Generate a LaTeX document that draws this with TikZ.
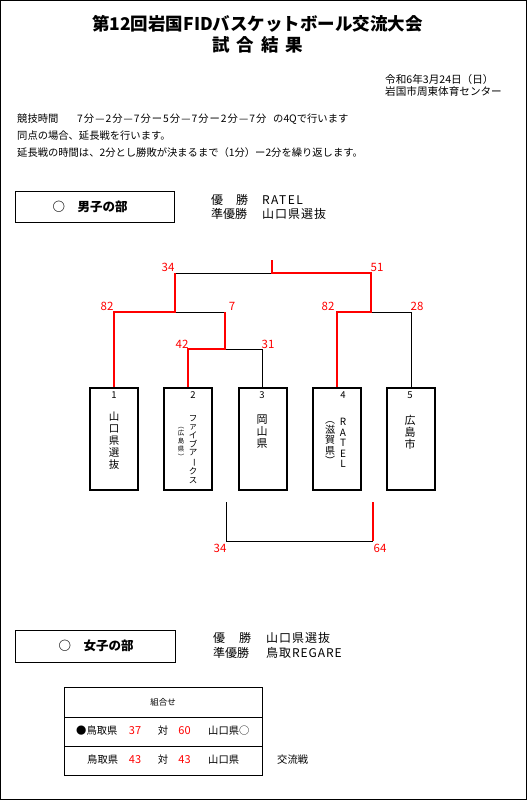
\documentclass[tikz,border=0pt]{standalone}
\usepackage{fontspec}
\setmainfont{Noto Sans CJK JP}
\usepackage{xcolor}
\usetikzlibrary{positioning}
\definecolor{scorered}{RGB}{255,0,0}
\newcommand{\tatebar}{\rotatebox[origin=c]{-90}{ー}}

\begin{document}
\begin{tikzpicture}[x=1pt,y=-1pt,
  team/.style={draw,line width=2pt,minimum width=48pt,minimum height=102pt,inner sep=0pt},
  win/.style={scorered,line width=1.6pt},
  lose/.style={black,line width=0.8pt},
  score/.style={text=scorered,inner sep=0pt,font=\fontsize{11.5}{12}\selectfont},
  txt/.style={inner sep=0pt,anchor=west,font=\fontsize{10.3}{12}\selectfont},
  big/.style={txt,font=\fontsize{12}{14}\selectfont},
  vtxt/.style={inner sep=0pt,align=center}]
  \useasboundingbox (0,0) rectangle (528,801);
  \draw[line width=1pt] (0.8,0.8) rectangle (526,799.5);

  % title
  \node[inner sep=0pt,font=\fontsize{17.5}{19}\bfseries] (title) at (257.5,24) {第12回岩国FIDバスケットボール交流大会};
  \node[inner sep=0pt,font=\fontsize{17.5}{19}\bfseries] (title2) at (257.5,45) {\makebox[91pt][s]{試\hfill 合\hfill 結\hfill 果}};
  \node[txt,font=\fontsize{10.6}{12}\selectfont] (date) at (385,79) {令和6年3月24日（日）};
  \node[txt,font=\fontsize{10.6}{12}\selectfont] (place) at (385,91) {岩国市周東体育センター};
  \node[txt] (rule1) at (17,119) {競技時間};
  \node[txt,font=\fontsize{10.3}{12}\addfontfeature{LetterSpace=10}] (rule1b) at (77,119) {7分—2分—7分ー5分—7分ー2分—7分};
  \node[txt] (rule1c) at (273,119) {の4Qで行います};
  \node[txt] (rule2) at (17,136) {同点の場合、延長戦を行います。};
  \node[txt] (rule3) at (17,153) {延長戦の時間は、2分とし勝敗が決まるまで（1分）ー2分を繰り返します。};

  % men
  \draw[line width=0.9pt] (15,191) rectangle (174,222);
  \node[inner sep=0pt,font=\fontsize{12.5}{14}\bfseries] (men) at (90,207) {○\quad 男子の部};
  \node[big] (mw) at (211,200) {\makebox[37pt][s]{優\hfill 勝}};
  \node[big] (mr) at (211,214) {準優勝};
  \node[big,font=\fontsize{12}{14}\addfontfeature{LetterSpace=12}] (mwn) at (262,200) {RATEL};
  \node[big,font=\fontsize{12}{14}\addfontfeature{LetterSpace=8}] (mrn) at (262,214) {山口県選抜};

  \node[team] (t1) at (114,439) {};
  \node[team] (t2) at (188,439) {};
  \node[team] (t3) at (262.5,439) {};
  \node[team] (t4) at (337,439) {};
  \node[team] (t5) at (411,439) {};
  \foreach \n/\x in {1/114,2/193,3/262,4/343,5/410}
    \node[inner sep=0pt,font=\fontsize{9.5}{10}\selectfont] (n\n) at (\x,395) {\n};
  \node[vtxt,font=\fontsize{10.5}{12}\selectfont] (l1) at (114,441) {山\\口\\県\\選\\抜};
  \node[vtxt,font=\fontsize{8.5}{8.7}\selectfont] (l2) at (193,449.5) {フ\\ァ\\イ\\ブ\\ア\\\tatebar\\ク\\ス};
  \node[vtxt,font=\fontsize{6.5}{7.75}\selectfont] (l2b) at (181,443) {︵\\広\\島\\県\\︶};
  \node[vtxt,font=\fontsize{11}{12}\selectfont] (l3) at (262,432) {岡\\山\\県};
  \node[vtxt,font=\fontsize{10}{10.4}\selectfont] (l4) at (343,443) {R\\A\\T\\E\\L};
  \node[vtxt,font=\fontsize{10}{10.4}\selectfont] (l4b) at (330,443) {︵\\滋\\賀\\県\\︶};
  \node[vtxt,font=\fontsize{11}{12}\selectfont] (l5) at (410,432) {広\\島\\市};

  % bracket
  \coordinate (q23) at (225,349);
  \coordinate (s1) at (175,312);
  \coordinate (s2) at (371,312);
  \coordinate (fin) at (272,273);
  \coordinate (fintop) at (272,260);
  \draw[lose] (s1) -- (q23 |- s1);
  \draw[lose] (q23) -| (t3.north);
  \draw[lose] (s1 |- fin) -- (fin);
  \draw[lose] (s2) -| (t5.north);
  \draw[win] (t1.north) |- (s1) -- (s1 |- fin);
  \draw[win] (t2.north) |- (q23) -- (q23 |- s1);
  \draw[win] (t4.north) |- (s2) -- (s2 |- fin) -- (fin) -- (fintop);

  \node[score] (sc1) at (168,267) {34};
  \node[score] (sc2) at (377,267) {51};
  \node[score] (sc3) at (107,306) {82};
  \node[score] (sc4) at (232,306) {7};
  \node[score] (sc5) at (328,306) {82};
  \node[score] (sc6) at (417,306) {28};
  \node[score] (sc7) at (182,344) {42};
  \node[score] (sc8) at (268,344) {31};

  % exchange game
  \coordinate (x3) at (226,502);
  \coordinate (x4) at (373,502);
  \coordinate (xb) at (373,541);
  \draw[lose] (x3) |- (xb);
  \draw[win] (xb) -- (x4);
  \node[score] (sc9) at (220,548) {34};
  \node[score] (sc10) at (380,548) {64};

  % women
  \draw[line width=0.9pt] (15,630) rectangle (175,662);
  \node[inner sep=0pt,font=\fontsize{12.5}{14}\bfseries] (women) at (96,646) {○\quad 女子の部};
  \node[big] (ww) at (213,638) {\makebox[38pt][s]{優\hfill 勝}};
  \node[big] (wr) at (213,653) {準優勝};
  \node[big,font=\fontsize{12}{14}\addfontfeature{LetterSpace=8}] (wwn) at (266,638) {山口県選抜};
  \node[big,font=\fontsize{12}{14}\addfontfeature{LetterSpace=8}] (wrn) at (266,653) {鳥取REGARE};

  \draw[line width=0.8pt] (64,687) rectangle (262,775);
  \draw[line width=0.8pt] (64,717) -- (262,717);
  \draw[line width=0.8pt] (64,746) -- (262,746);
  \node[inner sep=0pt,font=\fontsize{8.5}{10}\selectfont] (head) at (163,702) {組合せ};
  \node[txt] (a1) at (76,731) {●鳥取県};
  \node[score,font=\fontsize{11}{12}\selectfont] (a2) at (135,731) {37};
  \node[inner sep=0pt,font=\fontsize{10.3}{12}\selectfont] (a3) at (163,731) {対};
  \node[score,font=\fontsize{11}{12}\selectfont] (a4) at (184.5,731) {60};
  \node[txt] (a5) at (208,731) {山口県○};
  \node[txt] (b1) at (87,760) {鳥取県};
  \node[score,font=\fontsize{11}{12}\selectfont] (b2) at (135,760) {43};
  \node[inner sep=0pt,font=\fontsize{10.3}{12}\selectfont] (b3) at (163,760) {対};
  \node[score,font=\fontsize{11}{12}\selectfont] (b4) at (184.5,760) {43};
  \node[txt] (b5) at (208,760) {山口県};
  \node[txt] (b6) at (277,760) {交流戦};
\end{tikzpicture}
\end{document}
